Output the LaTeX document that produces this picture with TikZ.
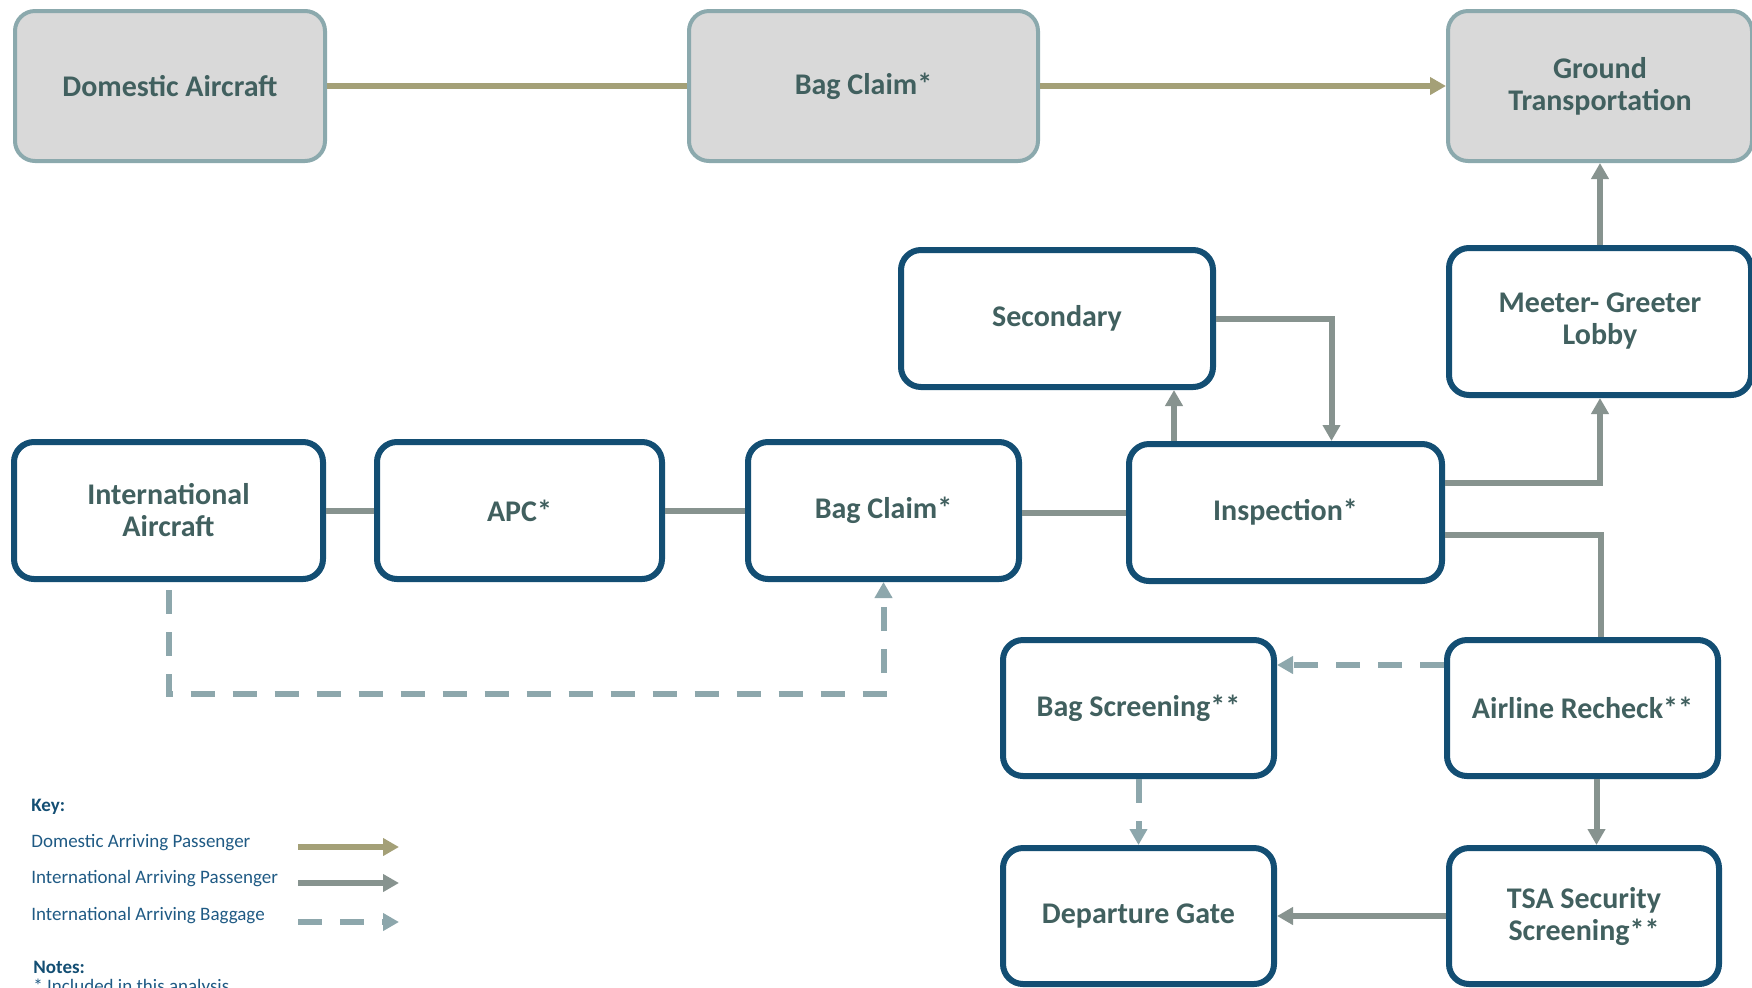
\documentclass[tikz,border=0pt]{standalone}
\usepackage{fontspec}
\setmainfont{Carlito}
\usetikzlibrary{arrows.meta,calc}
\definecolor{boxblue}{HTML}{134E73}
\definecolor{txt}{HTML}{41605F}
\definecolor{gfill}{HTML}{D9D9D9}
\definecolor{gborder}{HTML}{8BA9AD}
\definecolor{olivel}{HTML}{A4A077}
\definecolor{pgray}{HTML}{87938F}
\definecolor{bgray}{HTML}{8DA7AC}
\definecolor{keytxt}{HTML}{1F5A84}
\begin{document}
\begin{tikzpicture}[x=0.5pt,y=-0.5pt,
  box/.style={draw=boxblue, line width=3pt, rounded corners=10pt, fill=white, text=txt,
    font=\bfseries\fontsize{15}{16}\selectfont, align=center, inner sep=0pt},
  gbox/.style={box, draw=gborder, fill=gfill, line width=2pt},
  psg/.style={draw=pgray, line width=3pt},
  domline/.style={draw=olivel, line width=2.75pt},
  bagline/.style={draw=bgray, line width=3pt, dash pattern=on 12pt off 9pt},
  tip/.style={-{Triangle[length=8pt,width=8.5pt]}},
  keylbl/.style={anchor=west, inner sep=0pt, text=keytxt, font=\fontsize{9.5}{11}\selectfont},
  keyhd/.style={anchor=west, inner sep=0pt, text=boxblue, font=\bfseries\fontsize{9.5}{11}\selectfont}]
\useasboundingbox (0,0) rectangle (1752,987);
\clip (0,0) rectangle (1752,987);

% top row
\node[gbox, minimum width=155pt, minimum height=75pt] (dom) at (170,86) {Domestic Aircraft};
\node[gbox, minimum width=174.5pt, minimum height=75pt] (bc1) at (863.5,86) {Bag Claim*};
\node[gbox, minimum width=152pt, minimum height=75pt] (gt) at (1600,86) {Ground\\Transportation};

% middle
\node[box, minimum width=156pt, minimum height=68.5pt] (sec) at (1057,318.5) {Secondary};
\node[box, minimum width=151pt, minimum height=73.5pt] (mg) at (1600,321.5) {Meeter- Greeter\\Lobby};
\node[box, minimum width=154.5pt, minimum height=68.5pt] (ia) at (168.5,510.5) {International\\Aircraft};
\node[box, minimum width=142.5pt, minimum height=68.5pt] (apc) at (519.5,510.5) {APC*};
\node[box, minimum width=135.5pt, minimum height=68.5pt] (bc2) at (883.5,510.5) {Bag Claim*};
\node[box, minimum width=156.5pt, minimum height=68.5pt] (insp) at (1285.5,512.5) {Inspection*};

% bottom
\node[box, minimum width=135.5pt, minimum height=68pt] (bs) at (1138.5,708) {Bag Screening**};
\node[box, minimum width=135.5pt, minimum height=68pt] (ar) at (1582.5,708) {Airline Recheck**};
\node[box, minimum width=135.5pt, minimum height=68pt] (dg) at (1138.5,916) {Departure Gate};
\node[box, minimum width=135pt, minimum height=68pt] (tsa) at (1584,916) {TSA Security\\Screening**};

% domestic flow
\draw[domline] (dom.east) -- (bc1.west);
\draw[domline,tip] (bc1.east) -- (gt.west);

% international passenger flow
\draw[psg] (ia.east) -- (apc.west);
\draw[psg] (apc.east) -- (bc2.west);
\draw[psg] (insp.west) -- (insp.west -| bc2.east);
\coordinate (iu) at ([xshift=24pt]insp.north west);
\draw[psg,tip] (iu) -- (iu |- sec.south);
\coordinate (id) at ([xshift=23pt]insp.north);
\draw[psg,tip] (sec.east) -| (id);
\draw[psg,tip] ([yshift=-21pt]insp.north east) -| (mg.south);
\draw[psg,tip] (mg.north) -- (gt.south);
\coordinate (arin) at ([xshift=9pt]ar.north);
\draw[psg] ([yshift=-47pt]insp.north east) -| (arin);
\coordinate (arout) at ([xshift=7pt]ar.south);
\draw[psg,tip] (arout) -- (arout |- tsa.north);
\draw[psg,tip] (tsa.west) -- (tsa.west -| dg.east);

% baggage flow
\draw[bagline,tip] ([yshift=-4pt]ia.south) -- ++(0,104) -| (bc2.south);
\coordinate (bsin) at ([yshift=-14pt]ar.north west);
\draw[bagline,tip] (bsin) -- (bsin -| bs.east);
\draw[bagline,tip] (bs.south) -- (dg.north);

% key
\node[keyhd] (keyh) at (31,807) {Key:};
\node[keylbl] (k1) at (31,843) {Domestic Arriving Passenger};
\node[keylbl] (k2) at (31,879) {International Arriving Passenger};
\node[keylbl] (k3) at (31,916) {International Arriving Baggage};
\coordinate (k1a) at (298,847); \coordinate (k1b) at (399,847);
\coordinate (k2a) at (298,883); \coordinate (k2b) at (399,883);
\coordinate (k3a) at (298,922); \coordinate (k3b) at (399,922);
\draw[domline,tip] (k1a) -- (k1b);
\draw[psg,tip] (k2a) -- (k2b);
\draw[bagline,tip] (k3a) -- (k3b);
\node[keyhd] (notes) at (33,967) {Notes:};
\node[keylbl] (note1) at (33,987) {* Included in this analysis};
\end{tikzpicture}
\end{document}
